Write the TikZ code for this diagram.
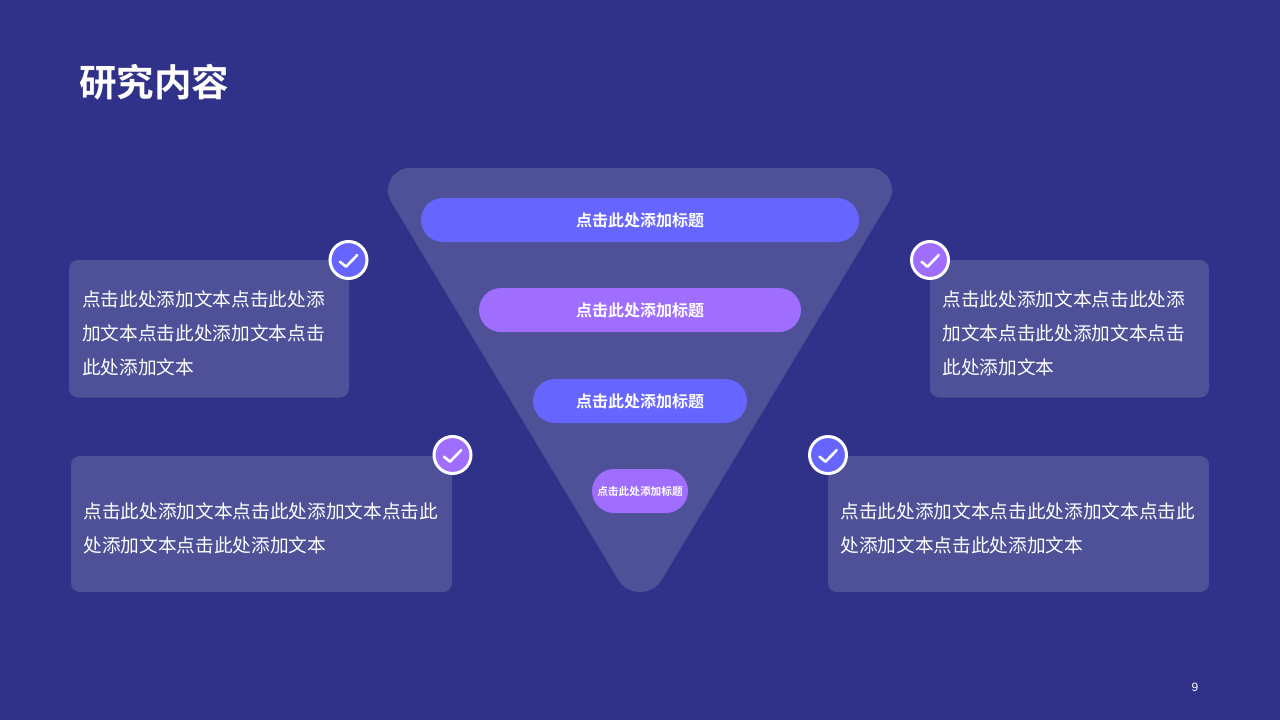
\documentclass[tikz,border=0pt]{standalone}
\usepackage{fontspec}
\setmainfont{Liberation Sans}
\newfontfamily\cjk{Noto Sans CJK SC}
\newfontfamily\cjkbold{Noto Sans CJK SC Bold}
\definecolor{pagebg}{HTML}{303188}
\definecolor{panelbg}{HTML}{4E5198}
\definecolor{pillblue}{HTML}{6666FF}
\definecolor{pillpurple}{HTML}{A06EFF}
\tikzset{
  pill/.style={rounded corners=22pt,minimum height=44pt,inner sep=0pt,text=white,
    font=\cjkbold\fontsize{16}{20}\selectfont},
  card/.style={fill=panelbg,rounded corners=9pt,inner sep=0pt,text=white,align=left,
    font=\cjk\fontsize{18.67}{33.8}\selectfont},
  tick/.style={circle,draw=white,line width=3pt,minimum size=37pt,inner sep=0pt},
  tickmark/.style={draw=white,line width=2.6pt,line cap=round,line join=round}
}
\newcommand{\tickat}[1]{\draw[tickmark] ([shift={(-8.5,1.7)}]#1.center) -- ([shift={(-2.5,6.7)}]#1.center) -- ([shift={(8.8,-5)}]#1.center);}
\newcommand{\cardline}[1]{\raisebox{-6.5pt}[14pt][4pt]{#1}}
\begin{document}
\begin{tikzpicture}[x=1pt,y=-1pt]
\useasboundingbox (0,0) rectangle (1280,720);
\fill[pagebg] (0,0) rectangle (1280,720);

\node[anchor=west,text=white,inner sep=0pt,font=\cjkbold\fontsize{37.5}{44}\selectfont]
  (title) at (79,82) {研究内容};

% funnel
\fill[panelbg] (409.9,168) -- (870.1,168)
  .. controls (887.2,168) and (897.8,186.7) .. (889,201.4)
  -- (661.9,579.6)
  .. controls (652,596.1) and (628,596.1) .. (618.1,579.6)
  -- (391,201.4)
  .. controls (382.2,186.7) and (392.8,168) .. (409.9,168) -- cycle;
\node[pill,fill=pillblue,minimum width=438pt] (p1) at (640,220) {点击此处添加标题};
\node[pill,fill=pillpurple,minimum width=322pt] (p2) at (640,310) {点击此处添加标题};
\node[pill,fill=pillblue,minimum width=214pt] (p3) at (640,401) {点击此处添加标题};
\node[pill,fill=pillpurple,minimum width=96pt,font=\cjkbold\fontsize{10.67}{14}\selectfont]
  (p4) at (640,491) {点击此处添加标题};

% cards
\node[card,minimum width=280pt,minimum height=137.5pt,text width=254pt] (c1) at (209,328.75)
  {\cardline{点击此处添加文本点击此处添}\\\cardline{加文本点击此处添加文本点击}\\\cardline{此处添加文本}};
\node[card,minimum width=279pt,minimum height=137.5pt,text width=254pt] (c2) at (1069.5,328.75)
  {\cardline{点击此处添加文本点击此处添}\\\cardline{加文本点击此处添加文本点击}\\\cardline{此处添加文本}};
\node[card,minimum width=381pt,minimum height=136pt,text width=356pt] (c3) at (261.5,524)
  {\cardline{点击此处添加文本点击此处添加文本点击此}\\\cardline{处添加文本点击此处添加文本}};
\node[card,minimum width=381pt,minimum height=136pt,text width=356pt] (c4) at (1018.5,524)
  {\cardline{点击此处添加文本点击此处添加文本点击此}\\\cardline{处添加文本点击此处添加文本}};

% check badges
\node[tick,fill=pillblue] (t1) at (348.5,260) {};
\node[tick,fill=pillpurple] (t2) at (930,260) {};
\node[tick,fill=pillpurple] (t3) at (452.5,455) {};
\node[tick,fill=pillblue] (t4) at (828,455) {};
\tickat{t1}
\tickat{t2}
\tickat{t3}
\tickat{t4}

\node[text=white,inner sep=0pt,font=\fontsize{12}{14}\selectfont] (pagenum) at (1195,687) {9};
\end{tikzpicture}
\end{document}
